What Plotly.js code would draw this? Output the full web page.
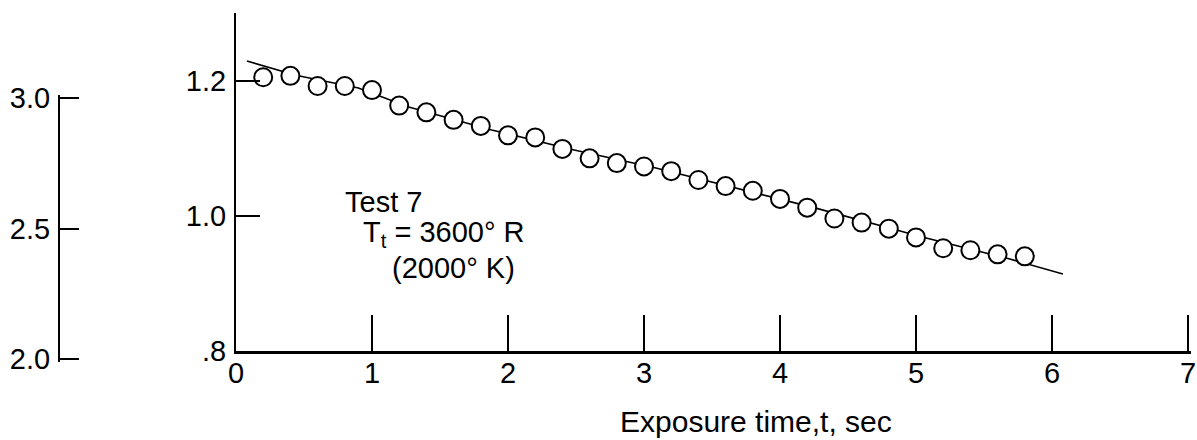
<!DOCTYPE html>
<html>
<head>
<meta charset="utf-8">
<script src="https://cdn.plot.ly/plotly-3.0.1.min.js"></script>
<style>html,body{margin:0;padding:0;background:#fff;}#chart{width:1197px;height:440px;}</style>
</head>
<body>
<div id="chart"></div>
<script>
// Measured points (exposure time, sec) and values
const timeData = [0.2,0.4,0.6,0.8,1.0,1.2,1.4,1.6,1.8,2.0,2.2,2.4,2.6,2.8,3.0,3.2,3.4,3.6,3.8,4.0,4.2,4.4,4.6,4.8,5.0,5.2,5.4,5.6,5.8];
const valueData = [1.205,1.207,1.192,1.192,1.186,1.163,1.153,1.142,1.133,1.119,1.116,1.099,1.085,1.078,1.073,1.066,1.053,1.044,1.037,1.025,1.012,0.996,0.990,0.981,0.968,0.952,0.949,0.943,0.940];
// Faired curve
const curveX = [0.08,0.44,0.9,1.27,1.88,2.47,3.08,4.27,5.06,5.69,6.08];
const curveY = [1.229,1.208,1.189,1.161,1.127,1.098,1.071,1.011,0.968,0.936,0.914];
// Tick labels
const xTickVals = [0,1,2,3,4,5,6,7];
const xTickText = ['0','1','2','3','4','5','6','7'];
const yTickVals = [0.8,1.0,1.2];
const yTickText = ['.8','1.0','1.2'];
const y2TickVals = [2.0,2.5,3.0];
const y2TickText = ['2.0','2.5','3.0'];

const FONT = 'Liberation Sans, Arial, sans-serif';
const FS = 29;
const W = 1197, H = 440;

const traces = [
  {x: curveX, y: curveY, mode: 'lines', line: {color: '#000', width: 1.6}, hoverinfo: 'skip', showlegend: false},
  {x: timeData, y: valueData, mode: 'markers', marker: {symbol: 'circle', size: 18, color: '#fff', line: {color: '#000', width: 2}}, showlegend: false},
  {x: [null], y: [null], xaxis: 'x2', yaxis: 'y2', mode: 'markers', hoverinfo: 'skip', showlegend: false}
];

// pixel geometry: x 0 -> 236px, 7 -> 1188px ; y .8 -> 351px, 1.3 -> 13px
const x0px = 236, x7px = 1188;
const xPad = 0.02;              // small pad so the end tick at 7 is drawn
const pxPerX = (x7px - x0px) / 7;
const y2Pad = 0.01;
const pxPerY2 = (359 - 98) / 1.0;

const layout = {
  width: W, height: H,
  margin: {l: 0, r: 0, t: 0, b: 0},
  paper_bgcolor: '#fff', plot_bgcolor: 'rgba(0,0,0,0)',
  font: {family: FONT, size: FS, color: '#000'},
  showlegend: false,
  xaxis: {
    domain: [x0px/W, (x7px + xPad*pxPerX)/W], range: [0, 7 + xPad], autorange: false,
    showgrid: false, zeroline: false, showline: true, linecolor: '#000', linewidth: 3,
    ticks: 'inside', ticklen: 36, tickwidth: 1.5, tickcolor: '#000',
    tickvals: xTickVals, ticktext: xTickText, ticklabelstandoff: -6, ticklabeloverflow: 'allow',
    tickfont: {family: FONT, size: FS}, automargin: false
  },
  yaxis: {
    domain: [1 - 351/H, 1 - 13/H], range: [0.8, 1.3], autorange: false,
    showgrid: false, zeroline: false, showline: true, linecolor: '#000', linewidth: 2,
    ticks: 'inside', ticklen: 24, tickwidth: 2, tickcolor: '#000',
    tickvals: yTickVals, ticktext: yTickText, ticklabelstandoff: 2,
    tickfont: {family: FONT, size: FS}, automargin: false
  },
  xaxis2: {
    domain: [60/W, 90/W], anchor: 'y2', visible: false, range: [0, 1]
  },
  yaxis2: {
    domain: [1 - (359 + y2Pad*pxPerY2)/H, 1 - (98 - y2Pad*pxPerY2)/H], range: [2.0 - y2Pad, 3.0 + y2Pad], autorange: false, anchor: 'x2',
    showgrid: false, zeroline: false, showline: true, linecolor: '#000', linewidth: 2,
    ticks: 'inside', ticklen: 19, tickwidth: 2, tickcolor: '#000',
    tickvals: y2TickVals, ticktext: y2TickText, ticklabelstandoff: 2,
    tickfont: {family: FONT, size: FS}, automargin: false
  },
  annotations: [
    {xref: 'x', yref: 'y', x: 0.785, y: 1.021, xanchor: 'left', yanchor: 'middle', showarrow: false,
     text: 'Test 7', font: {family: FONT, size: FS}},
    {xref: 'x', yref: 'y', x: 0.92, y: 0.973, xanchor: 'left', yanchor: 'middle', showarrow: false,
     text: 'T<sub>t</sub> = 3600° R', font: {family: FONT, size: FS}},
    {xref: 'x', yref: 'y', x: 1.13, y: 0.923, xanchor: 'left', yanchor: 'middle', showarrow: false,
     text: '(2000° K)', font: {family: FONT, size: FS}},
    {xref: 'paper', yref: 'paper', x: 756/W, y: 1 - 421/H, xanchor: 'center', yanchor: 'middle', showarrow: false,
     text: 'Exposure time,t, sec', font: {family: FONT, size: 30}}
  ]
};

Plotly.newPlot('chart', traces, layout, {staticPlot: true, displayModeBar: false});
</script>
</body>
</html>
